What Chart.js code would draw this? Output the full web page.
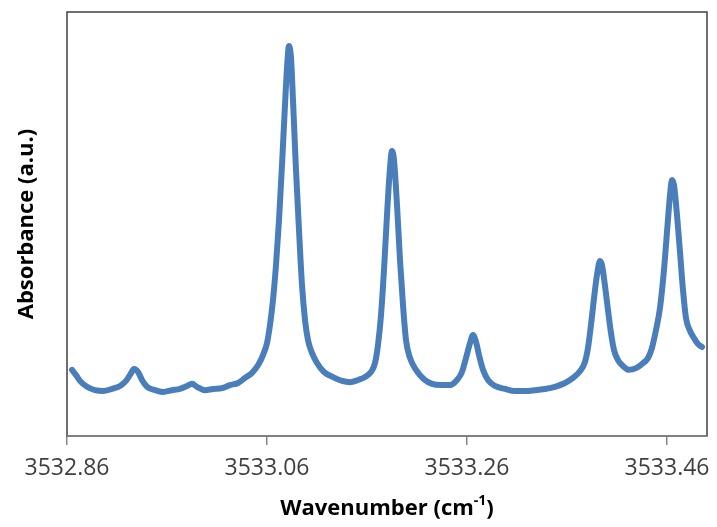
<!DOCTYPE html>
<html>
<head>
<meta charset="utf-8">
<script src="https://cdn.jsdelivr.net/npm/chart.js@4"></script>
<style>
  html, body { margin: 0; padding: 0; background: #fff; }
  #wrap { width: 717px; height: 527px; }
</style>
</head>
<body>
<div id="wrap"><canvas id="spectre" width="717" height="527"></canvas></div>
<script>
// spectre d'absorption (nombre d'onde en cm-1, absorbance en unités arbitraires)
const wavenumbers = [
  3532.865, 3532.869, 3532.873, 3532.880, 3532.888, 3532.896, 3532.905, 3532.913, 3532.919, 3532.923,
  3532.927, 3532.931, 3532.935, 3532.940, 3532.948, 3532.956, 3532.965, 3532.973, 3532.980, 3532.985,
  3532.990, 3532.998, 3533.006, 3533.015, 3533.023, 3533.031, 3533.038, 3533.045, 3533.051, 3533.056,
  3533.060, 3533.063, 3533.066, 3533.069, 3533.072, 3533.075, 3533.078, 3533.080, 3533.082, 3533.084,
  3533.086, 3533.089, 3533.092, 3533.095, 3533.098, 3533.101, 3533.105, 3533.110, 3533.117, 3533.126,
  3533.135, 3533.143, 3533.151, 3533.158, 3533.164, 3533.168, 3533.171, 3533.174, 3533.177, 3533.180,
  3533.183, 3533.185, 3533.187, 3533.190, 3533.193, 3533.196, 3533.199, 3533.203, 3533.209, 3533.217,
  3533.225, 3533.234, 3533.243, 3533.250, 3533.255, 3533.259, 3533.263, 3533.266, 3533.269, 3533.272,
  3533.276, 3533.281, 3533.288, 3533.298, 3533.308, 3533.318, 3533.328, 3533.338, 3533.348, 3533.358,
  3533.366, 3533.373, 3533.378, 3533.381, 3533.384, 3533.387, 3533.390, 3533.393, 3533.395, 3533.398,
  3533.401, 3533.404, 3533.407, 3533.411, 3533.416, 3533.422, 3533.429, 3533.435, 3533.441, 3533.445,
  3533.449, 3533.453, 3533.457, 3533.460, 3533.463, 3533.465, 3533.467, 3533.470, 3533.473, 3533.476,
  3533.479, 3533.483, 3533.487, 3533.491, 3533.495
];
const absorbance = [
  0.156, 0.144, 0.130, 0.116, 0.108, 0.106, 0.111, 0.118, 0.130, 0.144,
  0.158, 0.151, 0.132, 0.116, 0.108, 0.104, 0.108, 0.111, 0.118, 0.123,
  0.116, 0.108, 0.111, 0.113, 0.120, 0.125, 0.137, 0.149, 0.167, 0.191,
  0.219, 0.262, 0.321, 0.403, 0.509, 0.639, 0.781, 0.868, 0.920, 0.892,
  0.792, 0.627, 0.486, 0.356, 0.274, 0.226, 0.196, 0.172, 0.151, 0.139,
  0.130, 0.127, 0.132, 0.139, 0.151, 0.172, 0.215, 0.285, 0.392, 0.521,
  0.632, 0.672, 0.651, 0.545, 0.415, 0.309, 0.226, 0.184, 0.156, 0.134,
  0.123, 0.120, 0.120, 0.132, 0.151, 0.184, 0.219, 0.238, 0.222, 0.191,
  0.156, 0.132, 0.118, 0.111, 0.106, 0.106, 0.108, 0.111, 0.116, 0.125,
  0.137, 0.153, 0.175, 0.208, 0.262, 0.325, 0.380, 0.413, 0.403, 0.354,
  0.297, 0.243, 0.203, 0.179, 0.165, 0.156, 0.160, 0.170, 0.184, 0.208,
  0.250, 0.302, 0.392, 0.481, 0.568, 0.604, 0.592, 0.521, 0.434, 0.344,
  0.278, 0.248, 0.231, 0.217, 0.210
];
const xTicks = [3532.86, 3533.06, 3533.26, 3533.46];

const points = wavenumbers.map((w, i) => ({ x: w, y: absorbance[i] }));

// cadre + titres des axes (exposant pour cm-1)
const cadre = {
  id: 'cadre',
  afterDraw(chart) {
    const { ctx, chartArea: a } = chart;
    ctx.save();
    ctx.strokeStyle = '#404040';
    ctx.lineWidth = 1.5;
    ctx.strokeRect(a.left, a.top, a.right - a.left, a.bottom - a.top);
    ctx.strokeStyle = '#868686';
    ctx.beginPath();
    ctx.moveTo(a.left, a.bottom);
    ctx.lineTo(a.right, a.bottom);
    ctx.stroke();

    ctx.fillStyle = '#000';
    ctx.textBaseline = 'middle';
    // titre axe X
    const big = 'bold 22px "Open Sans"';
    const small = 'bold 14px "Open Sans"';
    const t1 = 'Wavenumber (cm', t2 = '-1', t3 = ')';
    ctx.font = big;
    const w1 = ctx.measureText(t1).width, w3 = ctx.measureText(t3).width;
    ctx.font = small;
    const w2 = ctx.measureText(t2).width;
    let x = (a.left + a.right) / 2 - (w1 + w2 + w3) / 2;
    const y = 509;
    ctx.textAlign = 'left';
    ctx.font = big;
    ctx.fillText(t1, x, y);
    ctx.font = small;
    ctx.fillText(t2, x + w1, y - 8);
    ctx.font = big;
    ctx.fillText(t3, x + w1 + w2, y);

    // titre axe Y
    ctx.translate(27, (a.top + a.bottom) / 2);
    ctx.rotate(-Math.PI / 2);
    ctx.textAlign = 'center';
    ctx.font = big;
    ctx.fillText('Absorbance (a.u.)', 0, 0);
    ctx.restore();
  }
};

const ctx = document.getElementById('spectre').getContext('2d');

const chart = new Chart(ctx, {
  type: 'scatter',
  data: {
    datasets: [{
      data: points,
      showLine: true,
      borderColor: '#4a7ebb',
      borderWidth: 6,
      borderCapStyle: 'round',
      borderJoinStyle: 'round',
      pointRadius: 0,
      cubicInterpolationMode: 'monotone'
    }]
  },
  options: {
    responsive: false,
    animation: false,
    layout: { padding: { left: 67, right: 10, top: 12, bottom: 0 } },
    plugins: { legend: { display: false }, tooltip: { enabled: false } },
    scales: {
      x: {
        type: 'linear',
        min: 3532.86,
        max: 3533.50,
        afterBuildTicks: (scale) => { scale.ticks = xTicks.map(v => ({ value: v })); },
        afterFit: (scale) => {
          scale.height = 91;
          // les étiquettes peuvent déborder, on ne rétrécit pas la zone du graphe
          scale.paddingLeft = 0;
          scale.paddingRight = 0;
        },
        grid: { drawOnChartArea: false, drawTicks: true, tickLength: 9, color: '#868686', lineWidth: 1.5 },
        border: { display: false },
        ticks: {
          autoSkip: false,
          maxRotation: 0,
          padding: 10,
          color: '#404040',
          font: { family: '"Open Sans"', size: 23 },
          callback: (v) => v.toFixed(2)
        }
      },
      y: {
        display: false,
        min: 0,
        max: 1
      }
    }
  },
  plugins: [cadre]
});
</script>
</body>
</html>
